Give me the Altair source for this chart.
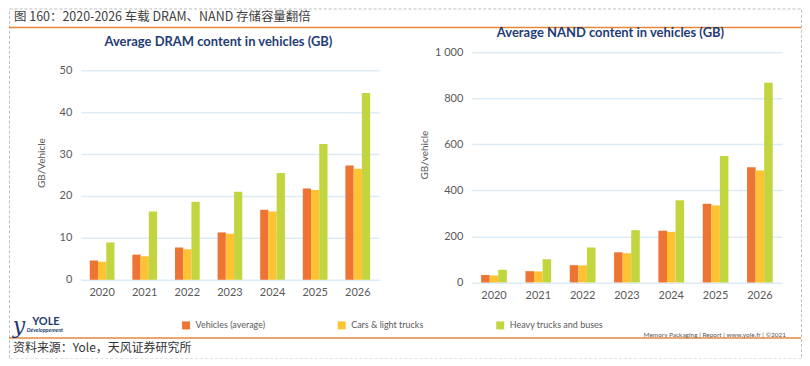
import altair as alt
import pandas as pd

# ---------------- data ----------------
years = ["2020", "2021", "2022", "2023", "2024", "2025", "2026"]
series = ["Vehicles (average)", "Cars & light trucks", "Heavy trucks and buses"]

dram_vehicles = [4.6, 6.0, 7.7, 11.3, 16.7, 21.8, 27.3]
dram_cars = [4.3, 5.6, 7.3, 11.0, 16.3, 21.4, 26.5]
dram_heavy = [8.9, 16.3, 18.6, 21.0, 25.5, 32.4, 44.6]

nand_vehicles = [32, 49, 75, 131, 225, 342, 501]
nand_cars = [30, 48, 74, 127, 220, 335, 486]
nand_heavy = [55, 101, 152, 227, 357, 549, 868]

dram_ticks = [0, 10, 20, 30, 40, 50]
nand_ticks = [0, 200, 400, 600, 800, 1000]

colors = ["#ED7432", "#FEC232", "#C2D53F"]

header = "图 160：2020-2026 车载 DRAM、NAND 存储容量翻倍"
dram_title = "Average DRAM content in vehicles (GB)"
nand_title = "Average NAND content in vehicles (GB)"
dram_ytitle = "GB/Vehicle"
nand_ytitle = "GB/vehicle"
source = "资料来源：Yole，天风证券研究所"
credit = "Memory Packaging | Report | www.yole.fr | ©2021"


def long_table(vals_list):
    rows = []
    for s, vals in zip(series, vals_list):
        for y, v in zip(years, vals):
            rows.append({"year": y, "series": s, "value": v})
    return pd.DataFrame(rows)


dram_df = long_table([dram_vehicles, dram_cars, dram_heavy])
nand_df = long_table([nand_vehicles, nand_cars, nand_heavy])

W, H = 794, 351
FONT = "Lato"
LABEL = "#595959"
NAVY = "#1F3C74"
GRID = "#DDEBF7"

color_enc = alt.Color(
    "series:N",
    sort=series,
    scale=alt.Scale(domain=series, range=colors),
    legend=alt.Legend(
        title=None, orient="none", legendX=173, legendY=313, direction="horizontal",
        symbolType="square", symbolSize=64, symbolStrokeWidth=0, labelFontSize=9,
        labelFont=FONT, labelColor=LABEL, columnPadding=72, labelOffset=5, padding=0,
    ),
)


def bar_layer(df, xrange, yzero, ytop, domain, ticks, label_expr=None):
    yaxis = dict(orient="left", offset=-xrange[0], values=ticks, grid=True, gridColor=GRID,
                 gridWidth=1.5, domain=False, ticks=False, title=None, labelPadding=9,
                 labelFont=FONT, labelFontSize=11, labelColor=LABEL)
    if label_expr:
        yaxis["labelExpr"] = label_expr
    return alt.Chart(df).mark_bar().encode(
        x=alt.X("year:N", sort=years,
                scale=alt.Scale(range=list(xrange), paddingInner=0.42, paddingOuter=0.21),
                axis=alt.Axis(orient="bottom", offset=-(H - yzero), title=None, labelAngle=0,
                              domain=False, ticks=False, grid=False, labelPadding=7,
                              labelFont=FONT, labelFontSize=11, labelColor=LABEL)),
        xOffset=alt.XOffset("series:N", sort=series,
                            scale=alt.Scale(paddingInner=0, paddingOuter=0)),
        y=alt.Y("value:Q", scale=alt.Scale(domain=domain, range=[yzero, ytop], nice=False),
                axis=alt.Axis(**yaxis)),
        color=color_enc,
    )


dram = bar_layer(dram_df, (72, 371), 272, 62, [0, 50], dram_ticks)
nand = bar_layer(nand_df, (464, 775), 274.7, 44, [0, 1000], nand_ticks,
                 label_expr="replace(format(datum.value, ','), ',', ' ')")


def text(t, x, y, size, color, align="center", weight="normal", font=FONT, angle=0, style="normal"):
    return alt.Chart(pd.DataFrame({"t": [t]})).mark_text(
        align=align, baseline="middle", fontSize=size, color=color, fontWeight=weight,
        font=font, angle=angle, fontStyle=style,
    ).encode(text="t:N", x=alt.value(x), y=alt.value(y))


def hline(y, color, width):
    return alt.Chart(pd.DataFrame({"a": [0]})).mark_rule(color=color, strokeWidth=width).encode(
        x=alt.value(0), x2=alt.value(W), y=alt.value(y))


layers = [
    hline(19, "#E8873A", 1.5),
    hline(330.5, "#E8873A", 1.5),
    text(header, 5, 9, 12.5, "#404040", align="left", font="Noto Sans CJK SC"),
    text(dram_title, 210, 34, 13, NAVY, weight="bold"),
    text(nand_title, 603, 25, 13, NAVY, weight="bold"),
    text(dram_ytitle, 33, 155, 10, LABEL, angle=270),
    text(nand_ytitle, 417, 147, 10, LABEL, angle=270),
    text("y", 10, 318, 22, NAVY, style="italic", font="DejaVu Serif"),
    text("YOLE", 37, 314, 11, NAVY, weight="bold"),
    text("Développement", 36, 322, 5.5, NAVY, style="italic", weight="bold"),
    text(source, 4, 340, 12, "#333333", align="left", font="Noto Sans CJK SC"),
    text(credit, 779, 327, 6.5, LABEL, align="right"),
    dram,
    nand,
]

chart = alt.layer(*layers).resolve_scale(
    x="independent", y="independent", xOffset="independent"
).properties(
    width=W, height=H, padding=0,
).configure_view(
    stroke="#BFBFBF", strokeDash=[3, 2], strokeWidth=1,
)

chart.save("out.html", embed_options={"renderer": "svg", "actions": False})
